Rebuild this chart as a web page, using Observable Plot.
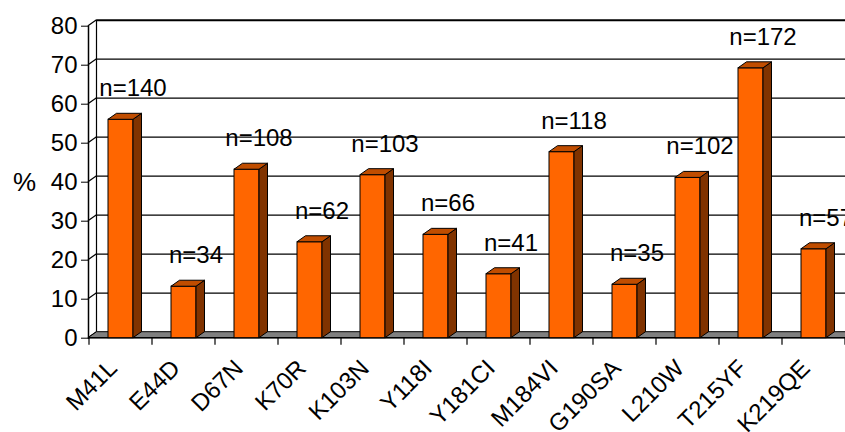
<!DOCTYPE html>
<html><head><meta charset="utf-8">
<script src="https://cdn.jsdelivr.net/npm/d3@7"></script>
<script src="https://cdn.jsdelivr.net/npm/@observablehq/plot@0.6"></script>
<style>
html,body{margin:0;padding:0;background:#fff;overflow:hidden;}
</style></head><body><div id="chart"></div>
<script>
const categories = ["M41L","E44D","D67N","K70R","K103N","Y118I","Y181CI","M184VI","G190SA","L210W","T215YF","K219QE"];
const percents = [56, 13.2, 43.2, 24.6, 41.8, 26.5, 16.4, 47.7, 13.7, 41.1, 69.2, 22.8];
const nLabels = ["n=140","n=34","n=108","n=62","n=103","n=66","n=41","n=118","n=35","n=102","n=172","n=57"];
const yTicks = [0,10,20,30,40,50,60,70,80];

const data = categories.map((c, i) => ({cat: c, value: percents[i], label: nLabels[i]}));
const DX = 8.5, DY = -6;
const FONT = "'Liberation Sans', Arial, Helvetica, sans-serif";
const NS = "http://www.w3.org/2000/svg";

function el(tag, attrs) {
  const e = document.createElementNS(NS, tag);
  for (const k in attrs) e.setAttribute(k, attrs[k]);
  return e;
}
function bw(x) { return typeof x.bandwidth === "function" ? x.bandwidth() : x.bandwidth; }
function st(x) { return typeof x.step === "function" ? x.step() : bw(x) / (1 - 0.604); }

// walls: side wall gridlines + back wall left edge
function wallsMark(index, scales, values, dims) {
  const y = scales.y;
  const g = el("g", {stroke: "#000", fill: "none"});
  const x0 = dims.marginLeft;
  for (const t of yTicks) {
    g.appendChild(el("line", {x1: x0, y1: y(t), x2: x0 + DX, y2: y(t) + DY, "stroke-width": 1.2}));
  }
  g.appendChild(el("line", {x1: x0 + DX, y1: y(0) + DY, x2: x0 + DX, y2: y(80) + DY, "stroke-width": 1.2}));
  return g;
}
// floor
function floorMark(index, scales, values, dims) {
  const y = scales.y;
  const xl = dims.marginLeft, xr = dims.width - dims.marginRight, y0 = y(0);
  const g = el("g", {});
  g.appendChild(el("polygon", {
    points: `${xl},${y0} ${xl + DX},${y0 + DY} ${xr + DX},${y0 + DY} ${xr},${y0}`,
    fill: "#808080", stroke: "#000", "stroke-width": 1
  }));
  g.appendChild(el("line", {x1: xl, y1: y0, x2: xr + DX, y2: y0, stroke: "#000", "stroke-width": 1.5}));
  return g;
}
// 3D top and side faces of each bar
function barDepthMark(index, scales, values, dims) {
  const x = scales.x, y = scales.y;
  const w = bw(x), y0 = y(0);
  const g = el("g", {stroke: "#000", "stroke-width": 1, "stroke-linejoin": "round"});
  for (const d of data) {
    const a = x(d.cat), b = a + w, yt = y(d.value);
    g.appendChild(el("polygon", {points: `${b},${yt} ${b + DX},${yt + DY} ${b + DX},${y0 + DY} ${b},${y0}`, fill: "#803300"}));
    g.appendChild(el("polygon", {points: `${a},${yt} ${a + DX},${yt + DY} ${b + DX},${yt + DY} ${b},${yt}`, fill: "#C04D00"}));
  }
  return g;
}
// category boundary tick marks below the floor
function catTicksMark(index, scales, values, dims) {
  const x = scales.x, y = scales.y;
  const w = bw(x), s = st(x), y0 = y(0);
  const g = el("g", {stroke: "#000", "stroke-width": 1.2});
  const bounds = categories.map(c => x(c) - (s - w) / 2);
  bounds.push(x(categories[categories.length - 1]) + w + (s - w) / 2);
  for (const xb of bounds) g.appendChild(el("line", {x1: xb, y1: y0, x2: xb, y2: y0 + 7}));
  return g;
}

const chart = Plot.plot({
  width: 860,
  height: 432,
  marginLeft: 88,
  marginRight: 13.6,
  marginTop: 25.7,
  marginBottom: 94.3,
  style: {fontFamily: FONT, fontSize: "24px", color: "#000", background: "#fff", maxWidth: "none", overflow: "visible"},
  x: {domain: categories, paddingInner: 0.604, paddingOuter: 0.302},
  y: {domain: [0, 80]},
  marks: [
    Plot.ruleY(yTicks.slice(1, -1), {dx: DX, dy: DY, stroke: "#000", strokeWidth: 1.2}),
    Plot.ruleY([80], {dx: DX, dy: DY, stroke: "#000", strokeWidth: 2}),
    wallsMark,
    floorMark,
    Plot.frame({anchor: "left", stroke: "#000", strokeWidth: 1.5}),
    Plot.axisY(yTicks, {tickSize: 7, tickPadding: 4, fontSize: 24, fontFamily: FONT, label: null, stroke: "#000"}),
    Plot.barY(data, {x: "cat", y: "value", fill: "#FF6600", stroke: "#000", strokeWidth: 1}),
    barDepthMark,
    catTicksMark,
    Plot.text(data, {x: "cat", y: d => d.value + 8, text: "label", dx: 12, fontSize: 24, fontFamily: FONT, fill: "#000"}),
    Plot.text(["%"], {frameAnchor: "left", textAnchor: "middle", dx: -64, fontSize: 26, fontFamily: FONT, fill: "#000"}),
    Plot.axisX({tickRotate: -45, tickSize: 0, tickPadding: 26, dx: -8, fontSize: 24, fontFamily: FONT, label: null})
  ]
});
document.getElementById("chart").appendChild(chart);
</script>
</body></html>
